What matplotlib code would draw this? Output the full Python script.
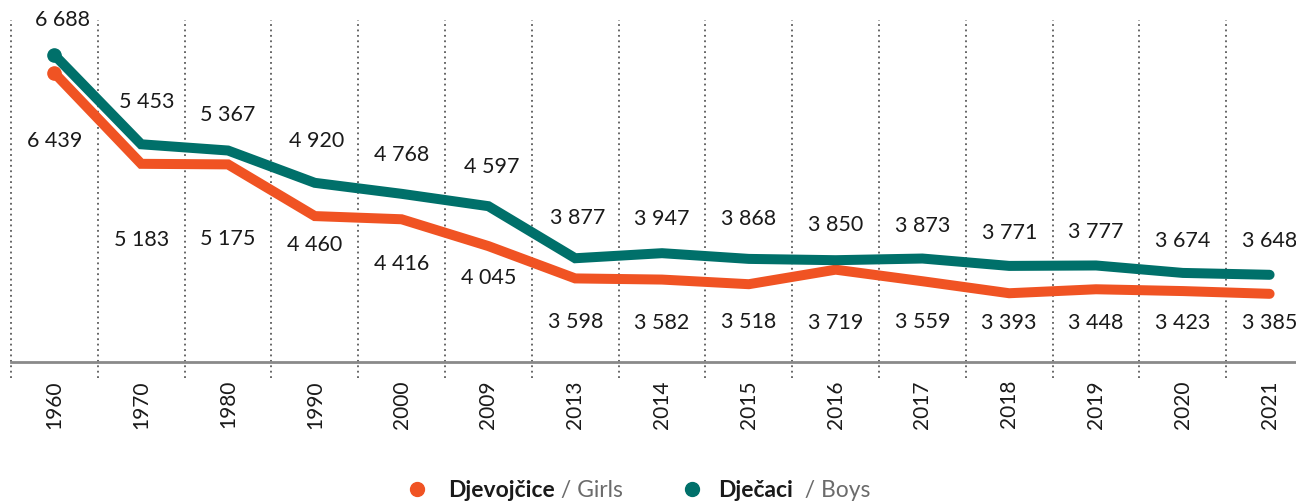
import matplotlib
matplotlib.use("Agg")
from matplotlib import pyplot as plt
from matplotlib.lines import Line2D

plt.rcParams['font.family'] = ['Lato', 'DejaVu Sans']

years = ['1960', '1970', '1980', '1990', '2000', '2009', '2013', '2014',
         '2015', '2016', '2017', '2018', '2019', '2020', '2021']
girls = [6439, 5183, 5175, 4460, 4416, 4045, 3598, 3582,
         3518, 3719, 3559, 3393, 3448, 3423, 3385]
boys = [6688, 5453, 5367, 4920, 4768, 4597, 3877, 3947,
        3868, 3850, 3873, 3771, 3777, 3674, 3648]

# label offsets in pixels (up for boys, down for girls)
boys_dy = [35, 42, 36, 42, 39, 39, 40, 34, 40, 35, 33, 33, 33, 32, 34]
girls_dy = [68, 76, 75, 29, 45, 32, 44, 43, 38, 53, 41, 30, 34, 32, 29]
boys_dx = [8, 6, 0, 2, 0, 3, 2, 0, 0, 0, 0, 0, 0, 0, 0]

ORANGE = '#F05323'
TEAL = '#00706A'
TEXT = '#1a1a1a'

W, H = 1296, 503
fig = plt.figure(figsize=(W / 100, H / 100), dpi=100)
ax = fig.add_axes([11 / W, (H - 362) / H, 1285 / W, 342 / H])

x = list(range(len(years)))
step = 86.8
ax.set_xlim(-0.5, -0.5 + 1285 / step)
ax.set_ylim(2442, 7172)

for i in x:
    ax.axvline(i - 0.5, ymin=-16 / 342, ymax=1, color='#5a5a5a', lw=1.3,
               linestyle=(0, (1, 2)), clip_on=False, zorder=1)

ax.plot(x, girls, color=ORANGE, lw=7.2, solid_capstyle='round',
        solid_joinstyle='miter', zorder=3)
ax.plot(x, boys, color=TEAL, lw=7.2, solid_capstyle='round',
        solid_joinstyle='miter', zorder=3)
ax.plot(x[0], girls[0], 'o', color=ORANGE, ms=9.5, zorder=4)
ax.plot(x[0], boys[0], 'o', color=TEAL, ms=9.5, zorder=4)


def fmt(v):
    return f'{v:,}'.replace(',', ' ')


for i in x:
    ax.annotate(fmt(boys[i]), (i, boys[i]), xytext=(boys_dx[i], boys_dy[i]),
                textcoords='offset pixels', ha='center', va='center',
                fontsize=15.5, color=TEXT)
    ax.annotate(fmt(girls[i]), (i, girls[i]), xytext=(0, -girls_dy[i]),
                textcoords='offset pixels', ha='center', va='center',
                fontsize=15.5, color=TEXT)

for s in ['top', 'right', 'left']:
    ax.spines[s].set_visible(False)
ax.spines['bottom'].set_color('#8a8a8a')
ax.spines['bottom'].set_linewidth(2)
ax.set_yticks([])
ax.set_xticks(x)
ax.set_xticklabels(years, rotation=90, fontsize=15, color=TEXT)
ax.tick_params(axis='x', length=0, pad=13)

# legend built by hand: bold name + grey english word
renderer = fig.canvas.get_renderer()
base_y = (H - 497) / H
dot_y = (H - 489) / H


def legend_item(px, color, name, eng, gap):
    fig.add_artist(Line2D([px / W], [dot_y], marker='o', color=color,
                          ms=10, transform=fig.transFigure))
    t1 = fig.text((px + gap) / W, base_y, name, fontsize=16.5,
                  fontweight='bold', color=TEXT, va='baseline')
    ext = t1.get_window_extent(renderer)
    fig.text(ext.x1 / W, base_y, eng, fontsize=16.5, color='#6b6b6b',
             va='baseline')


legend_item(417, ORANGE, 'Djevojčice', ' / Girls', 31)
legend_item(692, TEAL, 'Dječaci', '  / Boys', 26)

fig.savefig('out.png', dpi=100)
